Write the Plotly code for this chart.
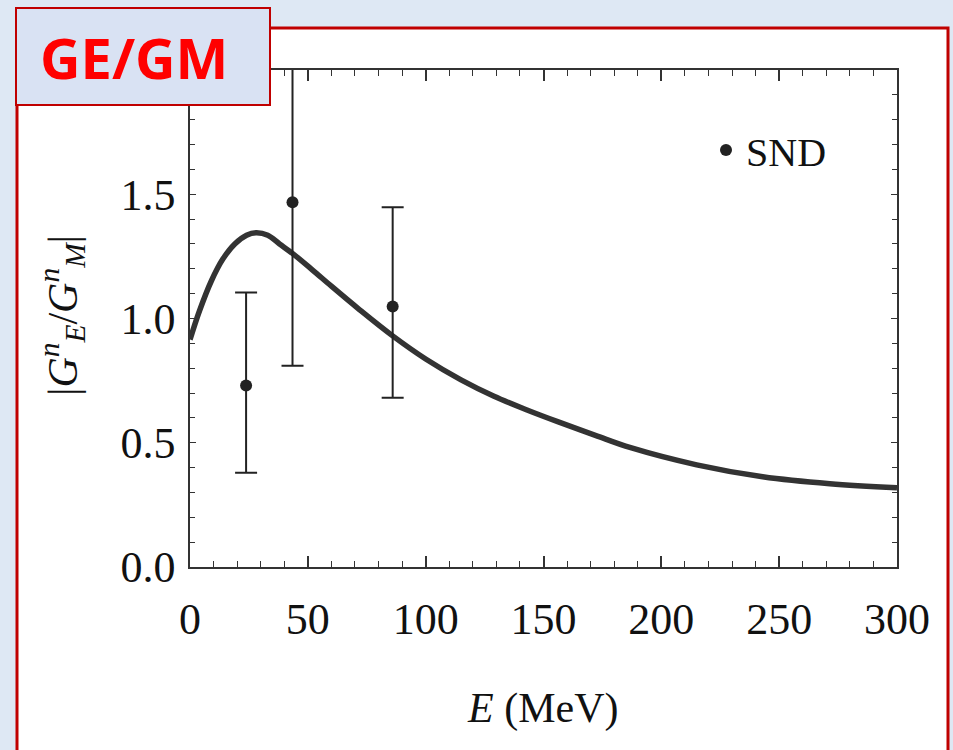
import plotly.graph_objects as go

# ---- data ----
curve_E = [0, 4, 9, 14, 19, 24, 28, 33, 38, 44, 52, 60, 72, 86, 100, 115,
           129, 143, 156, 172, 187, 215, 243, 271.5, 300]
curve_R = [0.915, 1.03, 1.15, 1.24, 1.30, 1.335, 1.345, 1.335, 1.30, 1.258, 1.195, 1.13,
           1.035, 0.93, 0.837, 0.753, 0.687, 0.632, 0.585, 0.53, 0.48, 0.411, 0.363, 0.335, 0.319]

snd_E = [23.8, 43.5, 86.0]
snd_R = [0.73, 1.468, 1.048]
snd_up = [1.105, 2.6, 1.448]
snd_lo = [0.379, 0.81, 0.681]

x_ticks = [0, 50, 100, 150, 200, 250, 300]
y_ticks = [0.0, 0.5, 1.0, 1.5]

W, H = 953, 750
L, R, T, B = 190, 897, 70, 567

def px(x):
    return (x - L) / (R - L)

def py(y):
    return (B - y) / (B - T)

fig = go.Figure()

fig.add_trace(go.Scatter(
    x=curve_E, y=curve_R, mode="lines",
    line=dict(color="#333333", width=5.5, shape="spline", smoothing=1.0),
    showlegend=False, hoverinfo="skip"))

fig.add_trace(go.Scatter(
    x=snd_E, y=snd_R, mode="markers", name="SND",
    marker=dict(color="#222222", size=12),
    error_y=dict(type="data", symmetric=False,
                 array=[u - v for u, v in zip(snd_up, snd_R)],
                 arrayminus=[v - l for v, l in zip(snd_R, snd_lo)],
                 color="#222222", thickness=2, width=11),
    showlegend=True))

serif = "Liberation Serif, DejaVu Serif, serif"

fig.update_xaxes(
    range=[0, 300], tickvals=x_ticks, ticktext=[str(v) for v in x_ticks],
    ticks="inside", ticklen=11, tickwidth=1.5, tickcolor="#333",
    minor=dict(dtick=10, ticks="inside", ticklen=6, tickwidth=1.2, tickcolor="#333"),
    showline=True, linecolor="#333", linewidth=1.5, mirror="allticks",
    showgrid=False, zeroline=False,
    tickfont=dict(family=serif, size=44, color="#111"), ticklabelstandoff=12)

fig.update_yaxes(
    range=[0, 2.0], tickvals=y_ticks, ticktext=["0.0", "0.5", "1.0", "1.5"],
    ticks="inside", ticklen=6, tickwidth=1.2, tickcolor="#333",
    minor=dict(dtick=0.1, ticks="inside", ticklen=5, tickwidth=1.2, tickcolor="#333"),
    showline=True, linecolor="#333", linewidth=1.5, mirror="allticks",
    showgrid=False, zeroline=False,
    tickfont=dict(family=serif, size=44, color="#111"), ticklabelstandoff=4)

shapes = [
    # white framed panel with red border
    dict(type="rect", xref="paper", yref="paper", layer="below",
         x0=px(17), x1=px(948), y0=py(780), y1=py(28),
         fillcolor="white", line=dict(color="#c00000", width=3)),
    # GE/GM label box
    dict(type="rect", xref="paper", yref="paper", layer="above",
         x0=px(16), x1=px(270), y0=py(105), y1=py(8),
         fillcolor="#d9e2f3", line=dict(color="#c00000", width=2)),
]

annotations = [
    dict(text="<b>GE/GM</b>", xref="paper", yref="paper", x=px(134), y=py(57),
         xanchor="center", yanchor="middle", showarrow=False,
         font=dict(family="Open Sans, Liberation Sans, sans-serif", size=56, color="#ff0000")),
    dict(text="<i>E</i> (MeV)", xref="paper", yref="paper", x=px(542), y=py(708),
         xanchor="center", yanchor="middle", showarrow=False,
         font=dict(family=serif, size=42, color="#111")),
    dict(text="|<i>G</i><sup><i>n</i></sup><sub><i>E</i></sub>/<i>G</i><sup><i>n</i></sup><sub><i>M</i></sub>|",
         xref="paper", yref="paper", x=px(62), y=py(316), textangle=-90,
         xanchor="center", yanchor="middle", showarrow=False,
         font=dict(family=serif, size=42, color="#111")),
]

fig.update_layout(
    width=W, height=H,
    margin=dict(l=L, r=W - R, t=T, b=H - B, pad=0),
    paper_bgcolor="#dee8f4", plot_bgcolor="white",
    shapes=shapes, annotations=annotations,
    showlegend=True,
    legend=dict(x=px(706), y=py(150), xanchor="left", yanchor="middle",
                bgcolor="rgba(0,0,0,0)", font=dict(family=serif, size=40, color="#111"),
                itemwidth=30),
)

fig.write_html("out.html")
